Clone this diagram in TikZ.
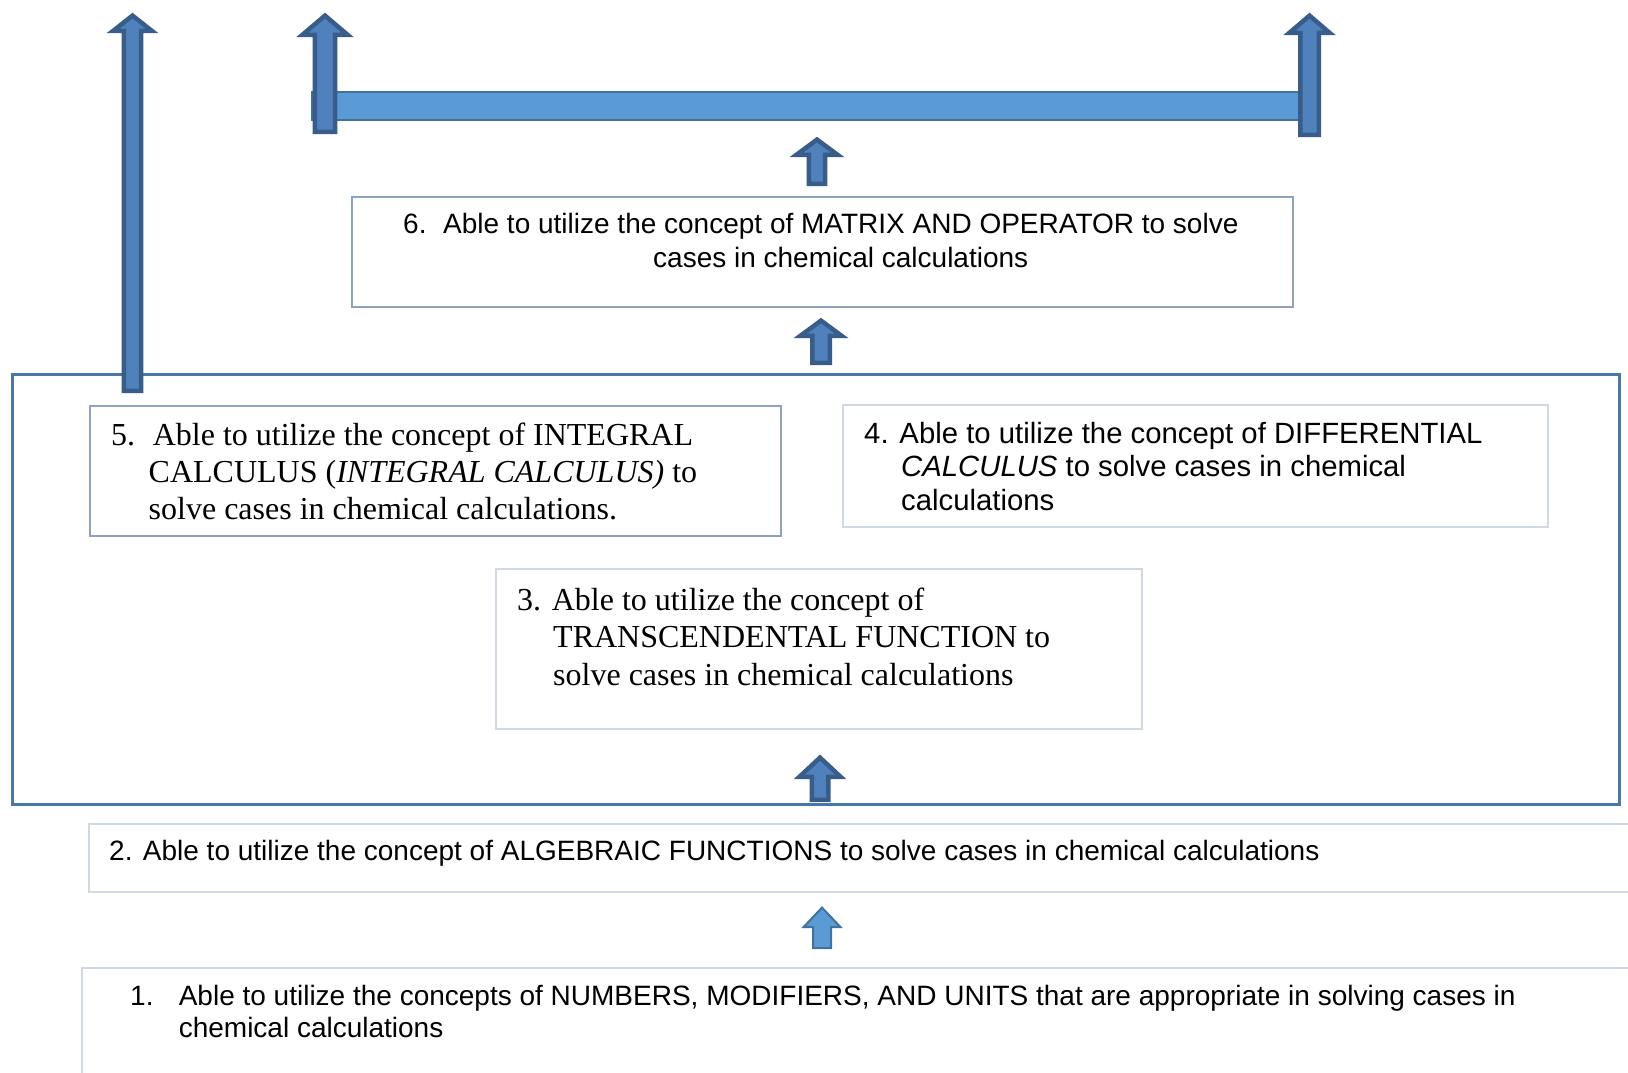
\documentclass[tikz,border=0pt]{standalone}
\usepackage{fontspec}
\setmainfont{Liberation Serif}
\newfontfamily\arialf{Liberation Sans}
\definecolor{arrowfill}{HTML}{4F81BD}
\definecolor{arrowdraw}{HTML}{385D8A}
\definecolor{barfill}{HTML}{5B9BD5}
\definecolor{bardraw}{HTML}{41719C}
\definecolor{bigframe}{HTML}{4A77AA}
\definecolor{midframe}{HTML}{8EA2C0}
\definecolor{lightframe}{HTML}{D0D8E3}
% style, cx, tip, base, bottom, headhalf, shafthalf, inset
\newcommand\barrow[8]{%
  \draw[#1] (#2,{#3+1.6*#8}) -- ({#2+#6-1.1*#8},{#4-#8}) -- ({#2+#7-#8},{#4-#8}) -- ({#2+#7-#8},{#5-#8})
    -- ({#2-#7+#8},{#5-#8}) -- ({#2-#7+#8},{#4-#8}) -- ({#2-#6+1.1*#8},{#4-#8}) -- cycle;}
\begin{document}
\begin{tikzpicture}[x=1pt,y=-1pt,
  darrow/.style={fill=arrowfill,draw=arrowdraw,line width=4.5pt,line join=miter},
  larrow/.style={fill=barfill,draw=bardraw,line width=2pt,line join=miter},
  boxbase/.style={inner sep=0pt,outer sep=0pt,anchor=north west},
  bigbox/.style={boxbase,draw=bigframe,line width=3pt},
  midbox/.style={boxbase,draw=midframe,line width=2pt},
  lightbox/.style={boxbase,draw=lightframe,line width=2.5pt},
  sans/.style={font=\arialf\fontsize{28}{33}\selectfont,anchor=base west,inner sep=0pt},
  sansb/.style={font=\arialf\fontsize{29.3}{33.5}\selectfont,anchor=base west,inner sep=0pt},
  serif/.style={font=\fontsize{32}{37.5}\selectfont,anchor=base west,inner sep=0pt}]
\useasboundingbox (0,0) rectangle (1628,1072);
\fill[white] (0,0) rectangle (1628,1072);

% frames
\node[bigbox,minimum width=1607pt,minimum height=430pt] (big) at (12,374) {};
\node[midbox,minimum width=941pt,minimum height=110pt] (b6) at (352,197) {};
\node[midbox,minimum width=691pt,minimum height=130pt] (b5) at (90,406) {};
\node[lightbox,minimum width=705pt,minimum height=122pt] (b4) at (843,405) {};
\node[lightbox,minimum width=646pt,minimum height=160pt] (b3) at (496,569) {};
\node[lightbox,minimum width=1560pt,minimum height=68pt] (b2) at (89,824) {};
\node[lightbox,minimum width=1560pt,minimum height=130pt] (b1) at (82,968) {};

% horizontal bar
\draw[fill=barfill,draw=bardraw,line width=2pt] (312,92) rectangle (1320,120);

% block arrows
\barrow{darrow}{132.5}{12}{33}{393}{21.7}{10.8}{2.25}
\barrow{darrow}{325}{12}{37}{134}{25}{12.3}{2.25}
\barrow{darrow}{1309.5}{12}{35}{137}{22.5}{11.5}{2.25}
\barrow{darrow}{817}{136}{157}{186}{23}{10.3}{2.25}
\barrow{darrow}{821}{317}{338}{365}{23}{11}{2.25}
\barrow{darrow}{820}{754}{779}{802}{23}{10.5}{2.25}
\barrow{larrow}{822}{906}{928}{949}{19.5}{10}{1}

% texts
\node[sans] (t6n) at (403,233) {6.};
\node[sans] (t6a) at (443,233) {Able to utilize the concept of MATRIX AND OPERATOR to solve};
\node[sans] (t6b) at (653,267) {cases in chemical calculations};

\node[serif] (t5n) at (111,445) {5.};
\node[serif] (t5a) at (152.6,445) {Able to utilize the concept of INTEGRAL};
\node[serif] (t5b) at (148.5,482) {CALCULUS (\textit{INTEGRAL CALCULUS)} to};
\node[serif] (t5c) at (148.5,519) {solve cases in chemical calculations.};

\node[sansb] (t4a) at (864,443) {4. Able to utilize the concept of DIFFERENTIAL};
\node[sansb] (t4b) at (901,476) {\textit{CALCULUS} to solve cases in chemical};
\node[sansb] (t4c) at (901,510) {calculations};

\node[serif] (t3a) at (517,610) {3. Able to utilize the concept of};
\node[serif] (t3b) at (553,647) {TRANSCENDENTAL FUNCTION to};
\node[serif] (t3c) at (553,685) {solve cases in chemical calculations};

\node[sans] (t2) at (109,860) {2. Able to utilize the concept of ALGEBRAIC FUNCTIONS to solve cases in chemical calculations};

\node[sans] (t1n) at (130,1005) {1.};
\node[sans] (t1a) at (178.6,1005) {Able to utilize the concepts of NUMBERS, MODIFIERS, AND UNITS that are appropriate in solving cases in};
\node[sans] (t1b) at (178.6,1037) {chemical calculations};
\end{tikzpicture}
\end{document}
